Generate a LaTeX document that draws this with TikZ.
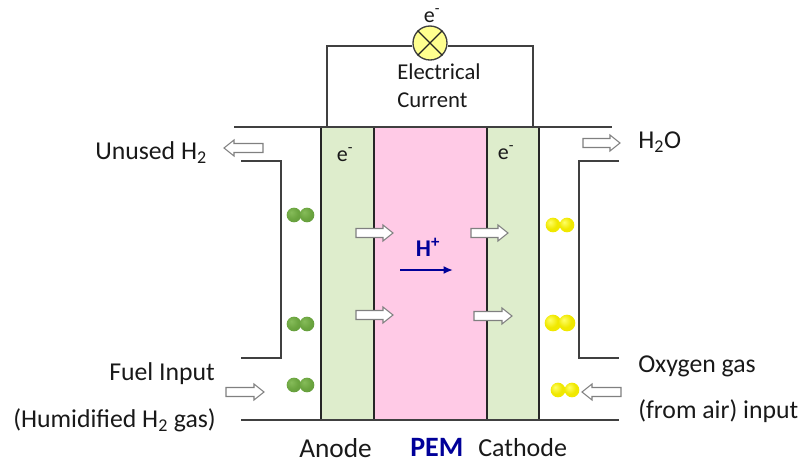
\documentclass[tikz,border=0pt]{standalone}
\usepackage{fontspec}
\setmainfont{Carlito}
\usetikzlibrary{arrows.meta}
\definecolor{lnc}{HTML}{404040}
\definecolor{gel}{HTML}{DEEDCC}
\definecolor{pem}{HTML}{FFCAE6}
\definecolor{lamp}{HTML}{FFFF8F}
\definecolor{navy}{HTML}{000099}
\definecolor{gA}{HTML}{86BC5A}\definecolor{gB}{HTML}{6CA540}\definecolor{gC}{HTML}{4F8A30}
\definecolor{yA}{HTML}{FFFF66}\definecolor{yB}{HTML}{F0E800}\definecolor{yC}{HTML}{B0A800}
\pgfdeclareradialshading{gsphere}{\pgfpoint{-10bp}{10bp}}{color(0bp)=(gA);color(20bp)=(gB);color(62bp)=(gC)}
\pgfdeclareradialshading{ysphere}{\pgfpoint{-10bp}{10bp}}{color(0bp)=(yA);color(20bp)=(yB);color(40bp)=(yB);color(65bp)=(yC)}
\tikzset{
  wire/.style={draw=lnc,line width=1.2pt},
  layer/.style={draw=black!85,line width=0.9pt,minimum height=219.75pt,inner sep=0pt,outer sep=0pt},
  lbl/.style={anchor=base west,inner sep=0pt,font=\fontsize{19.3pt}{22pt}\selectfont,text=black!90},
  elbl/.style={anchor=base,inner sep=0pt,font=\fontsize{16.5pt}{19pt}\selectfont,text=black!90},
  flow/.style={draw=black!50,fill=white,line width=0.8pt,line join=miter},
  gball/.style={circle,inner sep=0pt,minimum size=11pt,shading=gsphere},
  yball/.style={circle,inner sep=0pt,minimum size=11pt,shading=ysphere},
  bigyball/.style={yball,minimum size=12.5pt}
}
\newcommand{\flowR}[3]{\draw[flow] (#1,#3-4.5) -- (#2-10,#3-4.5) -- (#2-10,#3-8) -- (#2,#3) -- (#2-10,#3+8) -- (#2-10,#3+4.5) -- (#1,#3+4.5) -- cycle;}
\newcommand{\flowL}[3]{\draw[flow] (#1,#3-4.5) -- (#2+10,#3-4.5) -- (#2+10,#3-8) -- (#2,#3) -- (#2+10,#3+8) -- (#2+10,#3+4.5) -- (#1,#3+4.5) -- cycle;}
\begin{document}
\begin{tikzpicture}[x=0.75pt,y=-0.75pt]
\useasboundingbox (0,0) rectangle (800,462);
% layers
\node[layer,fill=gel,minimum width=39.75pt] (anode) at (347.5,273.5) {};
\node[layer,fill=pem,minimum width=84.75pt] (mem) at (430.5,273.5) {};
\node[layer,fill=gel,minimum width=39pt] (cathode) at (513,273.5) {};
% channel walls
\coordinate (tl) at (234,127); \coordinate (tr) at (612,127);
\coordinate (bl) at (241,420); \coordinate (br) at (619,420);
\draw[wire] (tl) -- (tr);
\draw[wire] (bl) -- (br);
\draw[wire] (241,161) -- (281,161) -- (281,358) -- (241,358);
\draw[wire] (619,161) -- (579,161) -- (579,358) -- (619,358);
% circuit
\node[circle,draw=lnc,fill=lamp,line width=1pt,minimum size=25.5pt,inner sep=0pt] (bulb) at (430,43) {};
\coordinate (cl) at (327,127); \coordinate (cr) at (533,127);
\draw[wire] (cl) -- (327,46) -- (bulb.west |- 0,46);
\draw[wire] (cr) -- (533,46) -- (bulb.east |- 0,46);
\draw[line width=1pt,draw=black!85] (bulb.north west) -- (bulb.south east) (bulb.north east) -- (bulb.south west);
% flow arrows
\flowL{263}{224}{148}
\flowR{583}{620}{143}
\flowR{356}{393}{233}
\flowR{356}{393}{315}
\flowR{471}{508}{233}
\flowR{474}{512}{316}
\flowR{226}{264}{392}
\flowL{621}{582}{392}
% molecules
\foreach \y/\n in {215/a,324/b,385/c}{
  \node[gball] (g1\n) at (294,\y) {};
  \node[gball] (g2\n) at (307,\y) {};
}
\node[yball] (y1a) at (553,225) {};
\node[yball] (y2a) at (567,225) {};
\node[bigyball] (y1b) at (553,323) {};
\node[bigyball] (y2b) at (567,323) {};
\node[yball] (y1c) at (558,390) {};
\node[yball] (y2c) at (572,390) {};
% proton arrow
\coordinate (ha) at (400,270); \coordinate (hb) at (453,270);
\draw[navy,line width=1.6pt,-{Latex[length=7pt,width=6pt]}] (ha) -- (hb);
\node[elbl,text=navy,font=\bfseries\fontsize{18pt}{21pt}\selectfont] (hp) at (428,256) {H\textsuperscript{+}};
% labels
\node[elbl] (e0) at (432,22) {e\textsuperscript{-}};
\node[elbl] (e1) at (345,161) {e\textsuperscript{-}};
\node[elbl] (e2) at (506,159) {e\textsuperscript{-}};
\node[lbl,font=\fontsize{17pt}{20pt}\selectfont] (t1) at (397,79) {Electrical};
\node[lbl,font=\fontsize{17pt}{20pt}\selectfont] (t2) at (397,107) {Current};
\node[lbl] (t3) at (95,159) {Unused H\textsubscript{2}};
\node[lbl] (t4) at (638,148) {H\textsubscript{2}O};
\node[lbl] (t5) at (109,380) {Fuel Input};
\node[lbl] (t6) at (13,427) {(Humidified H\textsubscript{2} gas)};
\node[lbl] (t7) at (638,372) {Oxygen gas};
\node[lbl] (t8) at (638,418) {(from air) input};
\node[lbl,font=\fontsize{20.5pt}{24pt}\selectfont] (t9) at (299,457) {Anode};
\node[lbl,text=navy,font=\bfseries\fontsize{21pt}{24pt}\selectfont] (t10) at (410,456) {PEM};
\node[lbl,font=\fontsize{19.5pt}{22pt}\selectfont] (t11) at (478,456) {Cathode};
\end{tikzpicture}
\end{document}
